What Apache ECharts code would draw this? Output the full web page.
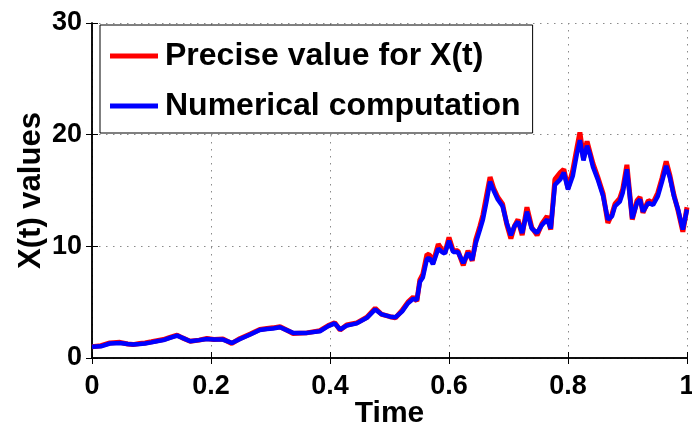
<!DOCTYPE html>
<html>
<head>
<meta charset="utf-8">
<script src="https://cdn.jsdelivr.net/npm/echarts@6/dist/echarts.min.js"></script>
<style>html,body{margin:0;padding:0;background:#fff;}#c{width:692px;height:425px;}</style>
</head>
<body>
<div id="c"></div>
<script>
const seriesNames = ['Precise value for X(t)', 'Numerical computation'];
const xTicks = [0, 0.2, 0.4, 0.6, 0.8, 1];
const yTicks = [0, 10, 20, 30];
const times = [0.000,0.015,0.030,0.047,0.060,0.069,0.080,0.089,0.100,0.109,0.120,0.131,0.143,0.152,0.165,0.180,0.193,0.205,0.220,0.235,0.249,0.266,0.282,0.294,0.304,0.316,0.327,0.338,0.361,0.383,0.397,0.408,0.417,0.428,0.445,0.462,0.476,0.487,0.501,0.510,0.521,0.531,0.540,0.546,0.551,0.556,0.563,0.568,0.573,0.582,0.588,0.593,0.600,0.607,0.615,0.624,0.632,0.639,0.645,0.652,0.657,0.663,0.669,0.675,0.682,0.690,0.697,0.704,0.710,0.716,0.723,0.731,0.739,0.748,0.756,0.765,0.771,0.778,0.787,0.793,0.800,0.808,0.815,0.820,0.826,0.832,0.837,0.842,0.850,0.859,0.867,0.874,0.879,0.887,0.892,0.899,0.908,0.916,0.921,0.926,0.935,0.943,0.951,0.958,0.965,0.971,0.978,0.985,0.993,1.000];
const numerical = [1.0,1.05,1.3,1.35,1.25,1.2,1.25,1.3,1.4,1.5,1.6,1.8,2.0,1.8,1.5,1.6,1.7,1.65,1.65,1.35,1.7,2.1,2.5,2.6,2.65,2.75,2.5,2.25,2.25,2.4,2.85,3.1,2.55,2.9,3.1,3.6,4.35,3.9,3.7,3.65,4.15,4.9,5.3,5.2,6.8,7.2,8.9,8.9,8.4,9.8,9.5,9.35,10.5,9.5,9.5,8.5,9.4,8.8,10.3,11.5,12.4,14.0,15.8,15.0,14.2,13.6,12.1,11.0,11.8,12.2,11.2,13.1,11.6,11.2,11.9,12.4,11.6,15.5,16.0,16.6,15.1,16.3,18.3,19.5,17.7,19.0,18.2,17.1,16.0,14.5,12.4,12.7,13.6,14.0,14.8,16.9,12.5,13.9,14.2,13.1,13.9,13.7,14.5,15.8,17.2,16.2,14.5,13.3,11.5,13.3];
const precise = [1.0,1.1,1.35,1.4,1.25,1.2,1.3,1.35,1.45,1.55,1.65,1.85,2.05,1.8,1.5,1.6,1.75,1.65,1.7,1.3,1.75,2.15,2.55,2.65,2.7,2.8,2.5,2.2,2.25,2.45,2.9,3.15,2.5,2.95,3.15,3.65,4.45,3.9,3.7,3.6,4.25,5.0,5.45,5.1,7.0,7.5,9.3,9.2,8.5,10.2,9.7,9.4,10.8,9.6,9.6,8.3,9.6,8.7,10.6,11.8,12.8,14.5,16.2,15.2,14.4,13.8,12.0,10.7,11.8,12.4,11.0,13.5,11.7,11.0,12.0,12.7,11.5,16.0,16.6,16.9,15.2,16.8,18.8,20.2,17.9,19.4,18.4,17.4,16.2,14.7,12.1,12.9,13.8,14.3,15.1,17.3,12.4,14.1,14.4,13.0,14.1,13.9,14.8,16.1,17.6,16.4,14.6,13.2,11.3,13.5];

const font = '"Liberation Sans", Arial, sans-serif';
const toPairs = (vals) => times.map((t, i) => [t, vals[i]]);

const chart = echarts.init(document.getElementById('c'), null, {renderer: 'canvas'});
const gridLine = {show: true, lineStyle: {color: '#8a8a8a', width: 1, type: [1.5, 5.5]}};
chart.setOption({
  animation: false,
  backgroundColor: '#fff',
  grid: {left: 92, right: 5, top: 23, bottom: 67, containLabel: false, outerBoundsMode: 'none'},
  legend: {
    orient: 'vertical', left: 100, top: 25,
    data: seriesNames,
    icon: 'rect', itemWidth: 48, itemHeight: 5, itemGap: 18,
    padding: [15, 12, 11, 10],
    backgroundColor: '#fff', borderColor: '#000', borderWidth: 1,
    textStyle: {fontFamily: font, fontWeight: 'bold', fontSize: 32, color: '#000', padding: [0,0,0,2]}
  },
  xAxis: [{
    type: 'value', min: xTicks[0], max: xTicks[xTicks.length - 1], interval: 0.2,
    name: 'Time', nameLocation: 'middle', nameGap: 41, nameMoveOverlap: false,
    nameTextStyle: {fontFamily: font, fontWeight: 'bold', fontSize: 30, color: '#000', verticalAlign: 'top'},
    axisLine: {show: true, lineStyle: {color: '#000', width: 1.5}},
    axisTick: {show: true, inside: true, length: 6, lineStyle: {color: '#000'}},
    axisLabel: {fontFamily: font, fontWeight: 'bold', fontSize: 27, color: '#000', margin: 15,
      formatter: v => String(Math.round(v * 10) / 10)},
    splitLine: gridLine
  }, {
    type: 'value', position: 'top', min: xTicks[0], max: xTicks[xTicks.length - 1], interval: 0.2,
    axisLine: {show: true, lineStyle: {color: '#000', width: 1.5}},
    axisTick: {show: true, inside: true, length: 6, lineStyle: {color: '#000'}},
    axisLabel: {show: false}, splitLine: {show: false}
  }],
  yAxis: [{
    type: 'value', min: yTicks[0], max: yTicks[yTicks.length - 1], interval: 10,
    name: 'X(t) values', nameLocation: 'middle', nameGap: 61, nameMoveOverlap: false,
    nameTextStyle: {fontFamily: font, fontWeight: 'bold', fontSize: 31, color: '#000', verticalAlign: 'middle'},
    axisLine: {show: true, lineStyle: {color: '#000', width: 1.5}},
    axisTick: {show: true, inside: true, length: 6, lineStyle: {color: '#000'}},
    axisLabel: {fontFamily: font, fontWeight: 'bold', fontSize: 27, color: '#000', margin: 10},
    splitLine: gridLine
  }, {
    type: 'value', position: 'right', min: yTicks[0], max: yTicks[yTicks.length - 1], interval: 10,
    axisLine: {show: true, lineStyle: {color: '#000', width: 1.5}},
    axisTick: {show: true, inside: true, length: 6, lineStyle: {color: '#000'}},
    axisLabel: {show: false}, splitLine: {show: false}
  }],
  series: [{
    name: seriesNames[0], type: 'line', data: toPairs(precise), showSymbol: false, symbol: 'none',
    lineStyle: {color: '#ff0000', width: 5}, itemStyle: {color: '#ff0000'}, z: 2
  }, {
    name: seriesNames[1], type: 'line', data: toPairs(numerical), showSymbol: false, symbol: 'none',
    lineStyle: {color: '#0000ff', width: 4.5}, itemStyle: {color: '#0000ff'}, z: 3
  }]
});
</script>
</body>
</html>
